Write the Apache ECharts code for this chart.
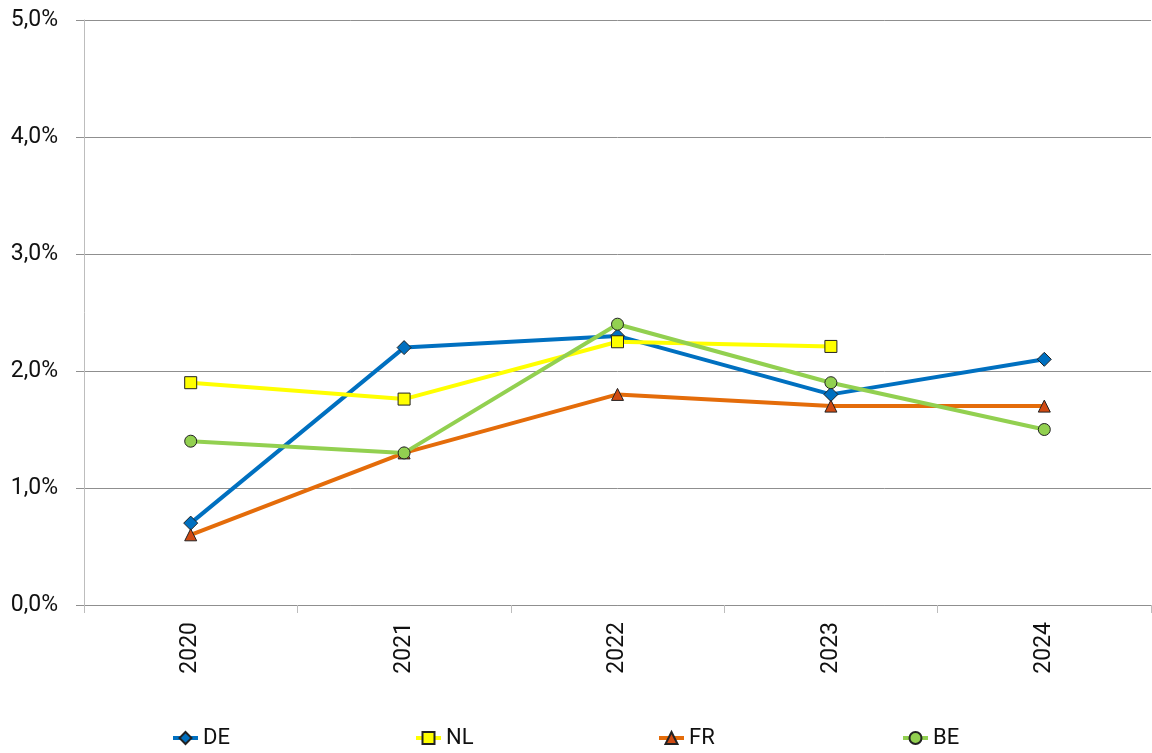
<!DOCTYPE html>
<html>
<head>
<meta charset="utf-8">
<script src="https://cdn.jsdelivr.net/npm/echarts@6/dist/echarts.min.js"></script>
<style>
  html, body { margin: 0; padding: 0; background: #fff; }
  #chart { width: 1152px; height: 753px; }
</style>
</head>
<body>
<div id="chart"></div>
<script>
// Years on the category axis
const years = ['2020', '2021', '2022', '2023', '2024'];

// Annual rates per country, in percent
const deValues = [0.7, 2.2, 2.3, 1.8, 2.1];
const nlValues = [1.9, 1.76, 2.25, 2.21, null];
const frValues = [0.6, 1.3, 1.8, 1.7, 1.7];
const beValues = [1.4, 1.3, 2.4, 1.9, 1.5];

// Value axis range and step
const yMin = 0;
const yMax = 5;
const yStep = 1;

const FONT = 'Roboto';
const TEXT = '#111';

function pct(v) {
  return v.toFixed(1).replace('.', ',') + '%';
}

function lineSeries(name, data, lineColor, markerColor, symbol) {
  return {
    name: name,
    type: 'line',
    data: data,
    symbol: symbol,
    symbolSize: symbol === 'diamond' ? 14 : 12,
    showAllSymbol: true,
    connectNulls: false,
    lineStyle: { color: lineColor, width: 4 },
    itemStyle: { color: markerColor, borderColor: '#222', borderWidth: 1 },
    emphasis: { disabled: true },
    animation: false
  };
}

function legendAt(name, left) {
  return {
    data: [name],
    left: left,
    top: 727,
    padding: 0,
    orient: 'horizontal',
    itemWidth: 25,
    itemHeight: 15,
    lineStyle: { width: 4 },
    textStyle: { fontFamily: FONT, fontSize: 22, color: TEXT, lineHeight: 22 },
    selectedMode: false
  };
}

const chart = echarts.init(document.getElementById('chart'), null, { renderer: 'canvas' });

chart.setOption({
  backgroundColor: '#fff',
  animation: false,
  grid: { left: 84, right: 1, top: 20, bottom: 148, containLabel: false },
  legend: [
    legendAt('DE', 171),
    legendAt('NL', 414),
    legendAt('FR', 657),
    legendAt('BE', 901)
  ],
  xAxis: {
    type: 'category',
    data: years,
    boundaryGap: true,
    axisLine: { show: true, lineStyle: { color: '#8f8f8f', width: 1 } },
    axisTick: { show: true, length: 8, lineStyle: { color: '#bdbdbd' } },
    axisLabel: {
      rotate: 90,
      margin: 17,
      fontFamily: FONT,
      fontSize: 23,
      color: TEXT
    },
    splitLine: { show: false }
  },
  yAxis: {
    type: 'value',
    min: yMin,
    max: yMax,
    interval: yStep,
    axisLine: { show: true, lineStyle: { color: '#bdbdbd', width: 1 } },
    axisTick: { show: true, length: 8, lineStyle: { color: '#8f8f8f' } },
    axisLabel: {
      margin: 26,
      fontFamily: FONT,
      fontSize: 23,
      color: TEXT,
      formatter: pct
    },
    splitLine: { show: true, lineStyle: { color: '#8f8f8f', width: 1 } }
  },
  series: [
    lineSeries('DE', deValues, '#0070C0', '#0070C0', 'diamond'),
    lineSeries('NL', nlValues, '#FFFF00', '#FFFF00', 'rect'),
    lineSeries('FR', frValues, '#E46C0A', '#D04A12', 'triangle'),
    lineSeries('BE', beValues, '#92D050', '#92D050', 'circle')
  ]
});
</script>
</body>
</html>
